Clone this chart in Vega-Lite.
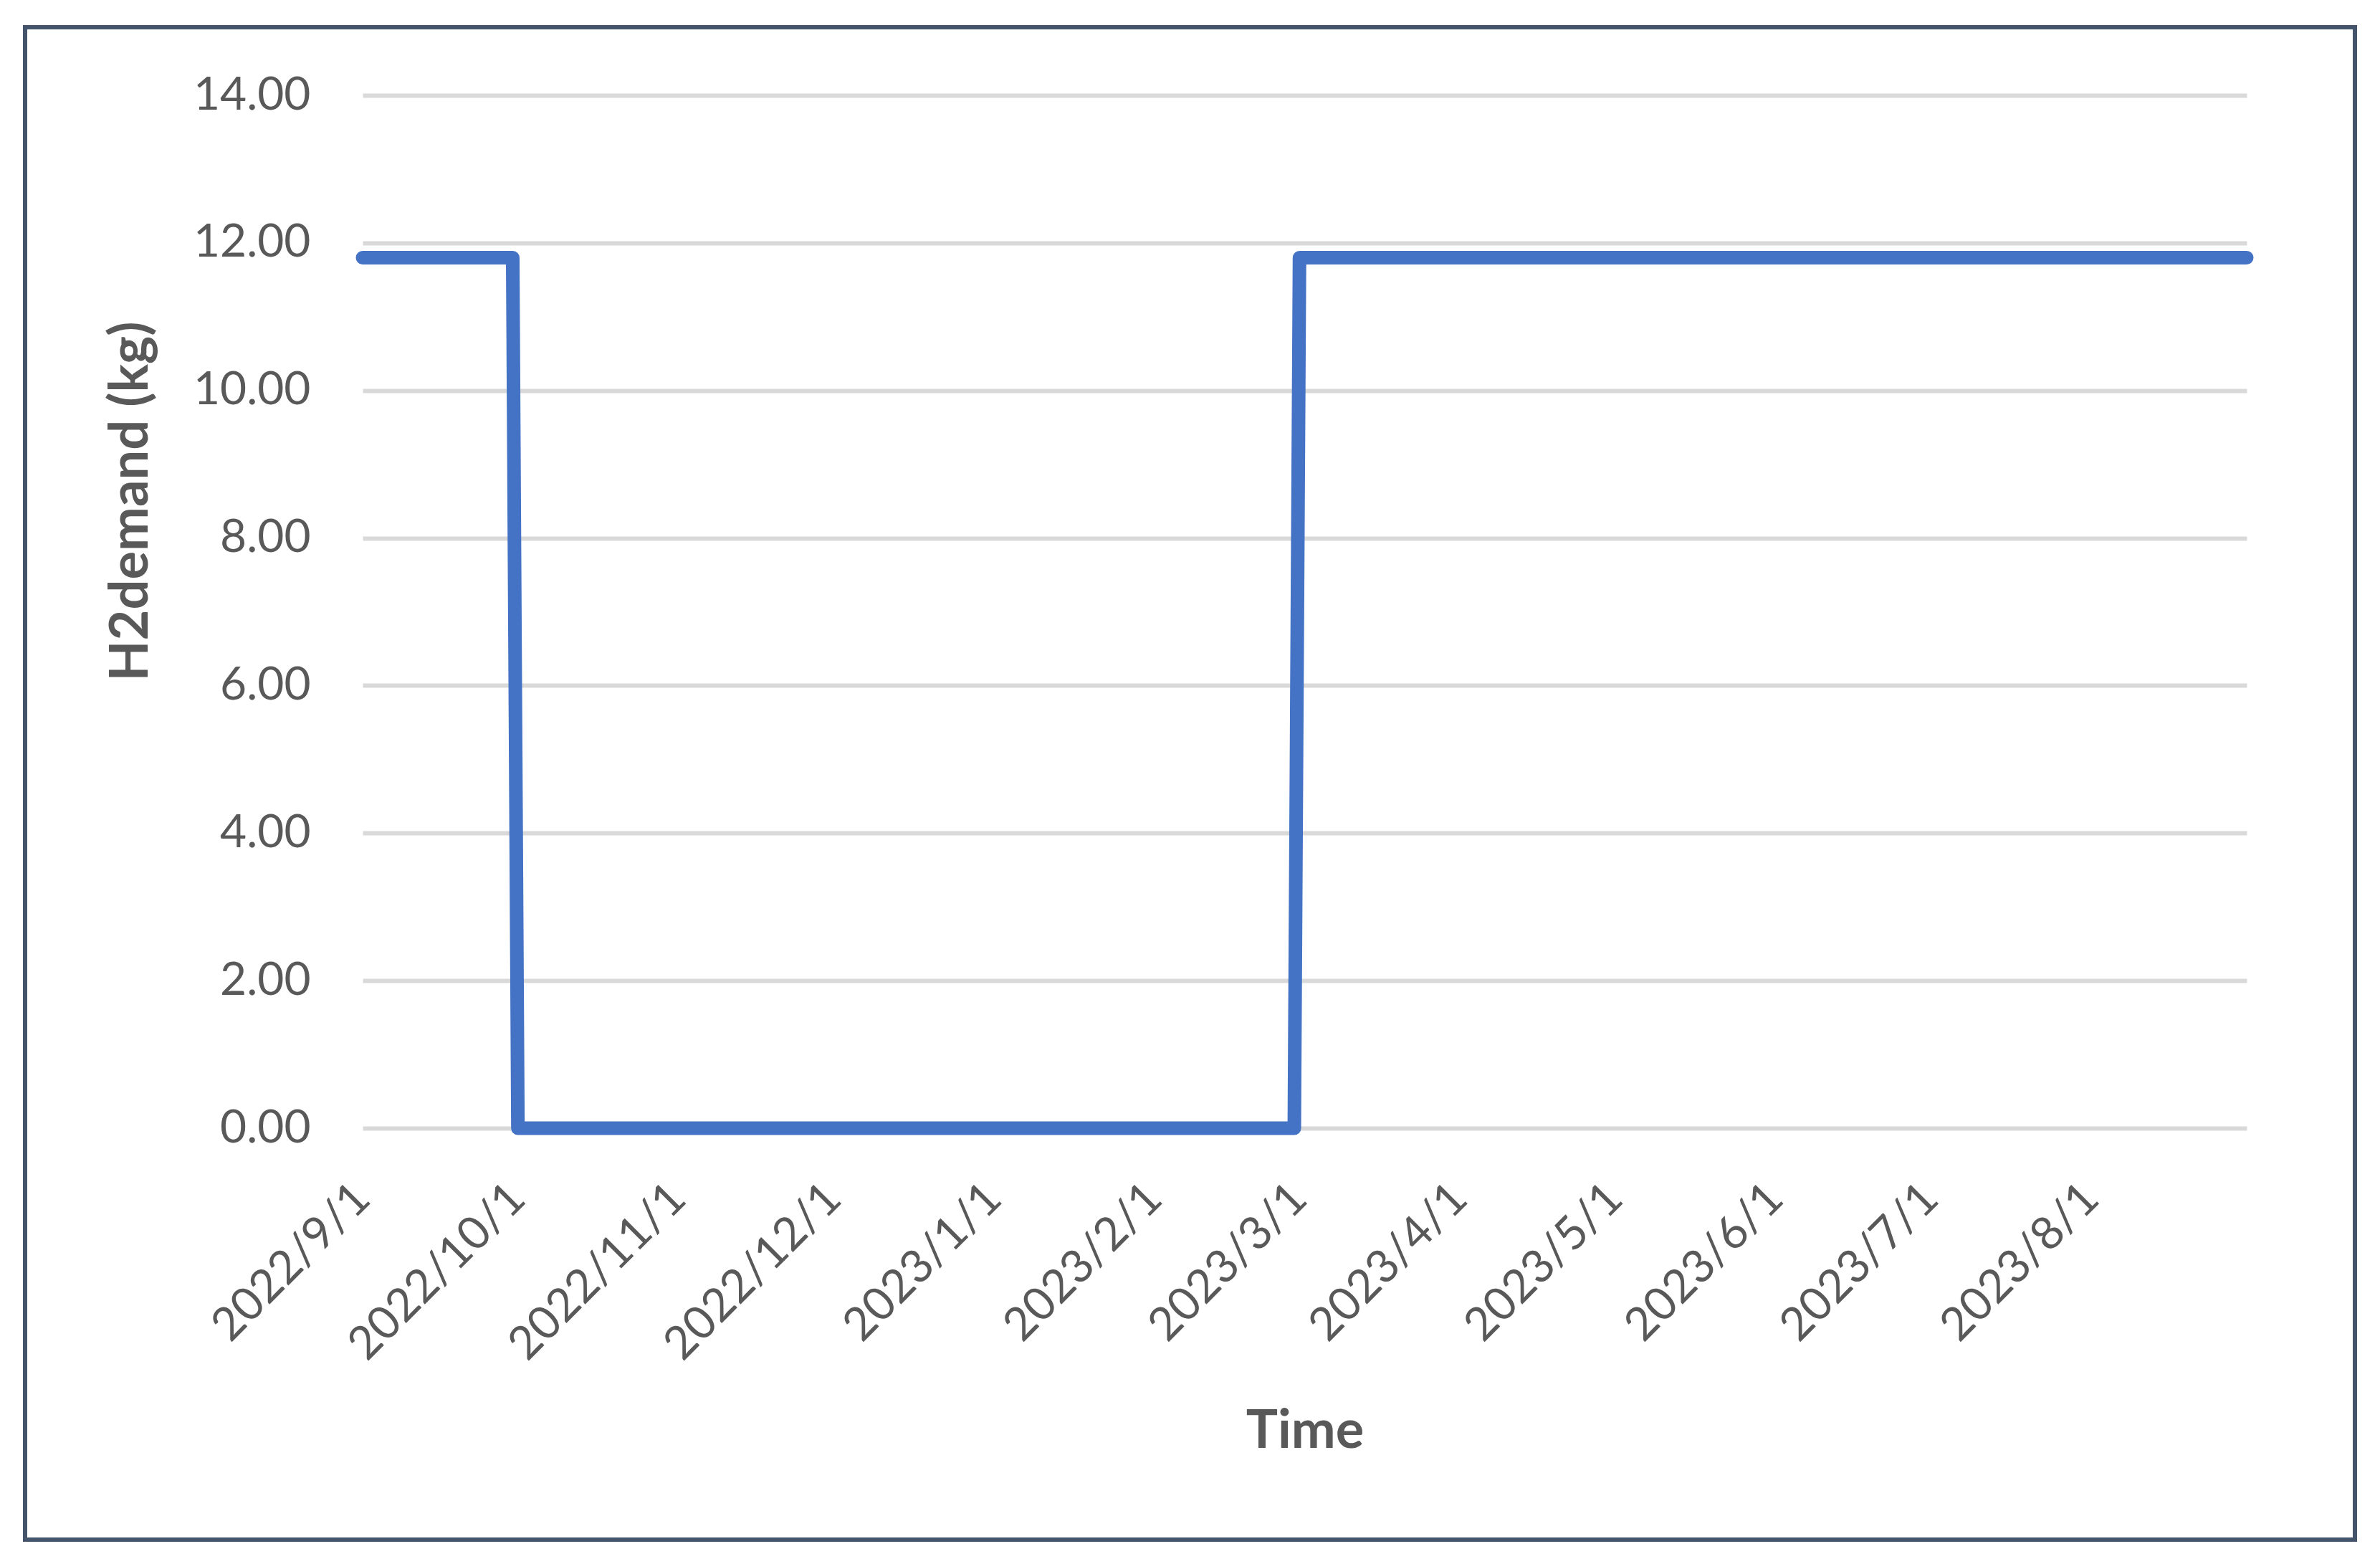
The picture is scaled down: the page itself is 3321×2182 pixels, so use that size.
{
  "$schema": "https://vega.github.io/schema/vega-lite/v6.json",
  "width": 3251,
  "height": 2110,
  "autosize": {"type": "none"},
  "padding": {"left": 35, "top": 38, "right": 35, "bottom": 34},
  "background": "white",
  "config": {
    "view": {"stroke": "#44546A", "strokeWidth": 6},
    "font": "Lato"
  },
  "data": {
    "values": [
      {"date": "2022-09-01T00:00:00", "h2": 11.8},
      {"date": "2022-09-30T00:00:00", "h2": 11.8},
      {"date": "2022-10-01T00:00:00", "h2": 0},
      {"date": "2022-11-01T00:00:00", "h2": 0},
      {"date": "2022-12-01T00:00:00", "h2": 0},
      {"date": "2023-01-01T00:00:00", "h2": 0},
      {"date": "2023-02-01T00:00:00", "h2": 0},
      {"date": "2023-02-28T00:00:00", "h2": 0},
      {"date": "2023-03-01T00:00:00", "h2": 11.8},
      {"date": "2023-04-01T00:00:00", "h2": 11.8},
      {"date": "2023-05-01T00:00:00", "h2": 11.8},
      {"date": "2023-06-01T00:00:00", "h2": 11.8},
      {"date": "2023-07-01T00:00:00", "h2": 11.8},
      {"date": "2023-08-01T00:00:00", "h2": 11.8},
      {"date": "2023-08-31T00:00:00", "h2": 11.8}
    ]
  },
  "mark": {
    "type": "line",
    "color": "#4472C4",
    "strokeWidth": 19,
    "strokeCap": "round",
    "strokeJoin": "round"
  },
  "encoding": {
    "x": {
      "field": "date",
      "type": "temporal",
      "scale": {
        "domain": [
          {"year": 2022, "month": 9, "date": 1},
          {"year": 2023, "month": 8, "date": 31}
        ],
        "range": [471, 3100]
      },
      "axis": {
        "title": "Time",
        "values": [
          {"year": 2022, "month": 9, "date": 1},
          {"year": 2022, "month": 10, "date": 1},
          {"year": 2022, "month": 11, "date": 1},
          {"year": 2022, "month": 12, "date": 1},
          {"year": 2023, "month": 1, "date": 1},
          {"year": 2023, "month": 2, "date": 1},
          {"year": 2023, "month": 3, "date": 1},
          {"year": 2023, "month": 4, "date": 1},
          {"year": 2023, "month": 5, "date": 1},
          {"year": 2023, "month": 6, "date": 1},
          {"year": 2023, "month": 7, "date": 1},
          {"year": 2023, "month": 8, "date": 1}
        ],
        "format": "%Y/%-m/%-d",
        "labelAngle": -45,
        "labelAlign": "right",
        "labelBaseline": "middle",
        "labelPadding": 88,
        "labelLimit": 0,
        "labelFlush": false,
        "labelOverlap": false,
        "labelFont": "Lato",
        "labelFontSize": 64,
        "labelColor": "#595959",
        "ticks": false,
        "domain": false,
        "grid": false,
        "offset": -574,
        "titleFont": "Lato",
        "titleFontSize": 74,
        "titleFontWeight": "bold",
        "titleColor": "#595959",
        "titleY": 445,
        "titleBaseline": "alphabetic"
      }
    },
    "y": {
      "field": "h2",
      "type": "quantitative",
      "scale": {"domain": [0, 14], "range": [1536, 95], "nice": false},
      "axis": {
        "title": "H2demand (kg)",
        "values": [0, 2, 4, 6, 8, 10, 12, 14],
        "format": ".2f",
        "labelPadding": 73,
        "labelFont": "Lato",
        "labelFontSize": 64,
        "labelColor": "#595959",
        "offset": -471,
        "grid": true,
        "gridColor": "#D9D9D9",
        "gridWidth": 6,
        "domain": false,
        "ticks": false,
        "titleFont": "Lato",
        "titleFontSize": 74,
        "titleFontWeight": "bold",
        "titleColor": "#595959",
        "titleAngle": -90,
        "titleX": -301,
        "titleY": 661,
        "titleAlign": "center",
        "titleBaseline": "alphabetic"
      }
    }
  }
}
